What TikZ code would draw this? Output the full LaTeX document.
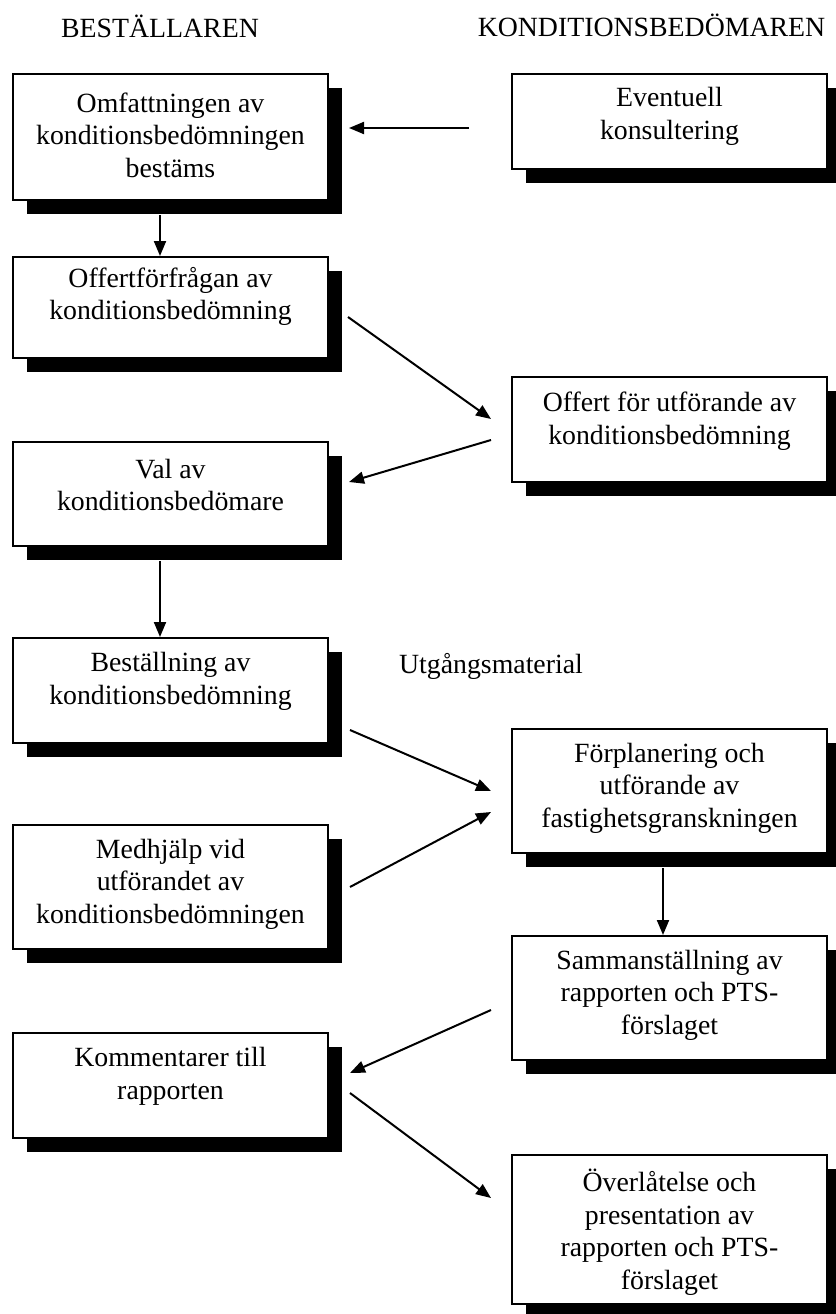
\documentclass[tikz,border=0pt]{standalone}
\usepackage{fontspec}
\setmainfont{Liberation Serif}
\usetikzlibrary{arrows.meta,shadows}
\tikzset{
  box/.style={draw=black, fill=white, line width=2pt, minimum width=315pt, inner sep=0pt,
    general shadow={fill=black, shadow xshift=14pt, shadow yshift=-14pt}},
  txt/.style={align=center, inner sep=0pt, font=\fontsize{27.8}{32.5}\selectfont},
  hdr/.style={inner sep=0pt, anchor=base, font=\fontsize{27.8}{32.5}\selectfont},
  arr/.style={line width=2pt, -{Triangle[length=15pt,width=12pt]}}
}
\begin{document}
\begin{tikzpicture}[x=1pt,y=-1pt]
\useasboundingbox[fill=white] (0,0) rectangle (835,1314);

% headers
\node[hdr] (h1) at (160,38) {BESTÄLLAREN};
\node[hdr] (h2) at (651.5,37) {KONDITIONSBEDÖMAREN};
\node[hdr] (h3) at (491,673) {Utgångsmaterial};

% left column boxes
\node[box, minimum height=126pt] (l1) at (170.5,137) {};
\node[box, minimum height=101pt] (l2) at (170.5,307.5) {};
\node[box, minimum height=104pt] (l3) at (170.5,494) {};
\node[box, minimum height=105pt] (l4) at (170.5,690.5) {};
\node[box, minimum height=124pt] (l5) at (170.5,887) {};
\node[box, minimum height=105pt] (l6) at (170.5,1085.5) {};
% right column boxes
\node[box, minimum height=95pt]  (r1) at (669.5,121.5) {};
\node[box, minimum height=105pt] (r2) at (669.5,429.5) {};
\node[box, minimum height=124pt] (r3) at (669.5,791) {};
\node[box, minimum height=124pt] (r4) at (669.5,998) {};
\node[box, minimum height=149pt] (r5) at (669.5,1229.5) {};

% texts
\node[txt] (t1) at (170.5,135) {Omfattningen av\\konditionsbedömningen\\bestäms};
\node[txt] (t2) at (170.5,296.5) {Offertförfrågan av\\konditionsbedömning};
\node[txt] (t3) at (170.5,485) {Val av\\konditionsbedömare};
\node[txt] (t4) at (170.5,681.5) {Beställning av\\konditionsbedömning};
\node[txt] (t5) at (170.5,884) {Medhjälp vid\\utförandet av\\konditionsbedömningen};
\node[txt] (t6) at (170.5,1076.5) {Kommentarer till\\rapporten};
\node[txt] (u1) at (669.5,116.5) {Eventuell\\konsultering};
\node[txt] (u2) at (669.5,421) {Offert för utförande av\\konditionsbedömning};
\node[txt] (u3) at (669.5,788) {Förplanering och\\utförande av\\fastighetsgranskningen};
\node[txt] (u4) at (669.5,995) {Sammanställning av\\rapporten och PTS-\\förslaget};
\node[txt] (u5) at (669.5,1232) {Överlåtelse och\\presentation av\\rapporten och PTS-\\förslaget};

% connectors
\draw[arr] ([shift={(-42,6.5)}]r1.west) -- ([shift={(20,-9)}]l1.east);
\draw[arr] ([shift={(-10.5,14)}]l1.south) -- ([shift={(-10.5,0)}]l2.north);
\draw[arr] ([shift={(19,9.5)}]l2.east) -- ([shift={(-20,-10.5)}]r2.west);
\draw[arr] ([shift={(-20,10.5)}]r2.west) -- ([shift={(20,-12)}]l3.east);
\draw[arr] ([shift={(-10.5,14)}]l3.south) -- ([shift={(-10.5,0)}]l4.north);
\draw[arr] ([shift={(21,39.5)}]l4.east) -- ([shift={(-20,0)}]r3.west);
\draw[arr] ([shift={(21,0)}]l5.east) -- ([shift={(-20,21)}]r3.west);
\draw[arr] ([shift={(-6.5,14)}]r3.south) -- ([shift={(-6.5,0)}]r4.north);
\draw[arr] ([shift={(-20,12)}]r4.west) -- ([shift={(21,-12.5)}]l6.east);
\draw[arr] ([shift={(21,7.5)}]l6.east) -- ([shift={(-20,-31.5)}]r5.west);
\end{tikzpicture}
\end{document}
